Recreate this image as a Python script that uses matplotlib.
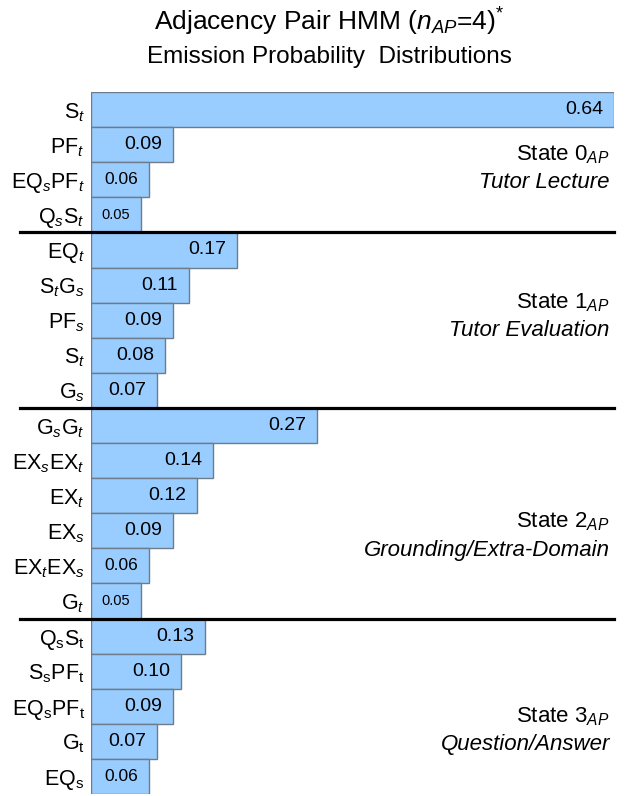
import matplotlib
matplotlib.use("Agg")
import matplotlib.pyplot as plt
import matplotlib.transforms as mtransforms
import numpy as np

plt.rcParams['font.family'] = ['Liberation Sans', 'DejaVu Sans']
plt.rcParams['mathtext.fontset'] = 'custom'
plt.rcParams['mathtext.rm'] = 'Liberation Sans'
plt.rcParams['mathtext.it'] = 'Liberation Sans:italic'
plt.rcParams['mathtext.bf'] = 'Liberation Sans:bold'

# emissoes por estado (rotulos e probabilidades)
labels_s0 = [r"$\mathrm{S}_t$", r"$\mathrm{PF}_t$", r"$\mathrm{EQ}_s\mathrm{PF}_t$", r"$\mathrm{Q}_s\mathrm{S}_t$"]
probs_s0 = [0.64, 0.09, 0.06, 0.05]

labels_s1 = [r"$\mathrm{EQ}_t$", r"$\mathrm{S}_t\mathrm{G}_s$", r"$\mathrm{PF}_s$", r"$\mathrm{S}_t$", r"$\mathrm{G}_s$"]
probs_s1 = [0.17, 0.11, 0.09, 0.08, 0.07]

labels_s2 = [r"$\mathrm{G}_s\mathrm{G}_t$", r"$\mathrm{EX}_s\mathrm{EX}_t$", r"$\mathrm{EX}_t$", r"$\mathrm{EX}_s$",
             r"$\mathrm{EX}_t\mathrm{EX}_s$", r"$\mathrm{G}_t$"]
probs_s2 = [0.27, 0.14, 0.12, 0.09, 0.06, 0.05]

labels_s3 = [r"$\mathrm{Q}_\mathrm{s}\mathrm{S}_\mathrm{t}$", r"$\mathrm{S}_\mathrm{s}\mathrm{PF}_\mathrm{t}$",
             r"$\mathrm{EQ}_\mathrm{s}\mathrm{PF}_\mathrm{t}$", r"$\mathrm{G}_\mathrm{t}$", r"$\mathrm{EQ}_\mathrm{s}$"]
probs_s3 = [0.13, 0.10, 0.09, 0.07, 0.06]

state_names = [r"State 0$_{AP}$", r"State 1$_{AP}$", r"State 2$_{AP}$", r"State 3$_{AP}$"]
state_desc = ["Tutor Lecture", "Tutor Evaluation", "Grounding/Extra-Domain", "Question/Answer"]

groups_labels = [labels_s0, labels_s1, labels_s2, labels_s3]
groups_probs = [probs_s0, probs_s1, probs_s2, probs_s3]

labels = sum(groups_labels, [])
probs = np.array(sum(groups_probs, []))
n = len(probs)
y = np.arange(n)

fig = plt.figure(figsize=(6.27, 7.96), dpi=100)
ax = fig.add_axes([91 / 627, 2 / 796, 523 / 627, 702 / 796])

# barras comecam um pouco antes do zero (como no original)
base = 0.0125
ax.barh(y, probs + base, left=-base, height=1.0, color='#99CCFF', edgecolor='#6E7B8B', linewidth=1.0)
ax.set_xlim(-base, 0.64)
ax.set_ylim(n - 0.5, -0.5)

ax.set_yticks(y)
ax.set_yticklabels(labels, fontsize=15.5)
ax.tick_params(axis='y', length=0, pad=4.5)
ax.set_xticks([])
for s in ax.spines.values():
    s.set_visible(False)

# valores dentro das barras
for yi, v in zip(y, probs):
    fs = 10.5 if v <= 0.05 else (12.5 if v <= 0.06 else 14)
    ax.annotate(f"{v:.2f}", xy=(v, yi), xytext=(-8, 0), textcoords='offset points',
                ha='right', va='center', fontsize=fs)

# linhas separadoras entre estados
trans = mtransforms.blended_transform_factory(ax.transAxes, ax.transData)
bounds = np.cumsum([len(g) for g in groups_probs])[:-1] - 0.5
for b in bounds:
    ax.plot([-71 / 523, 1.0], [b, b], color='black', lw=2.3, transform=trans,
            clip_on=False, zorder=5)

# nomes dos estados
state_text_y = [1.69, 5.9, 12.15, 17.7]
for yy, name, desc in zip(state_text_y, state_names, state_desc):
    ax.text(0.992, yy - 0.4, name, transform=trans, ha='right', va='center', fontsize=16)
    ax.text(0.992, yy + 0.4, desc, transform=trans, ha='right', va='center',
            fontsize=16, style='italic')

fig.text(0.525, 0.972, r"Adjacency Pair HMM ($n_{AP}$=4)$^{*}$", ha='center', va='center',
         fontsize=19)
fig.text(0.526, 0.928, "Emission Probability  Distributions", ha='center', va='center',
         fontsize=17.5)

fig.savefig("out.png", dpi=100)
